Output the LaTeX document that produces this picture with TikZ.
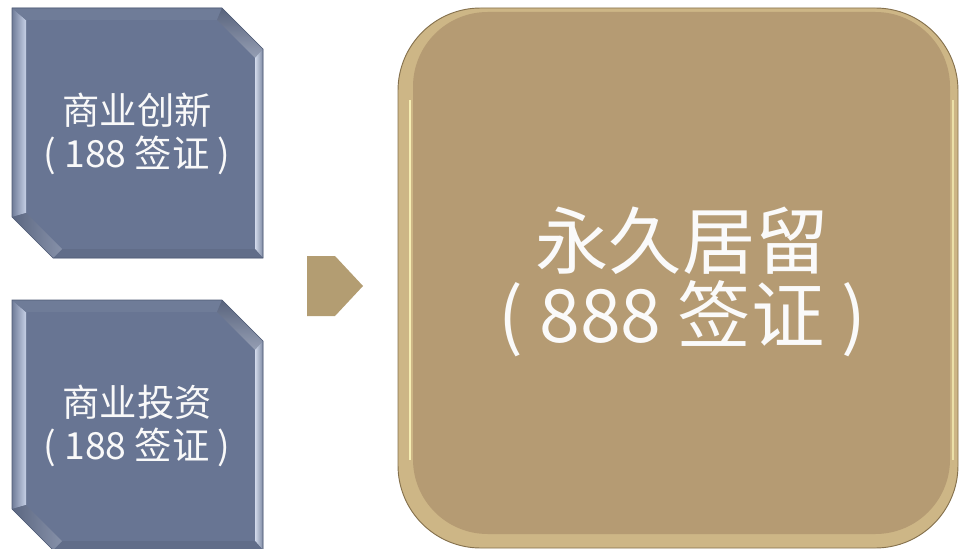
\documentclass[tikz,border=0pt]{standalone}
\usepackage{fontspec}
\usepackage{tikz}
\newfontfamily\cjk{Noto Sans CJK SC}

\definecolor{slate}{HTML}{687593}
\definecolor{slatedark}{HTML}{4F5B75}
\definecolor{slatelight}{HTML}{C6D0E6}
\definecolor{sand}{HTML}{B59B73}
\definecolor{sandrim}{HTML}{CDB686}
\definecolor{sanddark}{HTML}{85714D}
\definecolor{sandarrow}{HTML}{B39D72}

\tikzset{
  boxtext/.style={text=white!95!gray, align=center, font=\cjk\fontsize{28}{32}\selectfont},
  bigtext/.style={text=white!96!gray, align=center, font=\cjk\fontsize{55}{56}\selectfont}
}

\begin{document}
\begin{tikzpicture}[x=0.75pt,y=-0.75pt]

	\useasboundingbox (0,0) rectangle (960,549);

	% the two bevelled boxes on the left
	\foreach \oy in {0,292}{
	\begin{scope}[shift={(0,\oy)}]
		\coordinate (A) at (12,8);
		\coordinate (B) at (222,8);
		\coordinate (C) at (263,49);
		\coordinate (D) at (263,258);
		\coordinate (E) at (53,258);
		\coordinate (F) at (12,217);
		\coordinate (a) at (26,20);
		\coordinate (b) at (217,20);
		\coordinate (c) at (255,58);
		\coordinate (d) at (255,249);
		\coordinate (e) at (62,249);
		\coordinate (f) at (26,213);

		\fill[slate] (A) -- (B) -- (C) -- (D) -- (E) -- (F) -- cycle;
		\shade[left color=slate!95!white, right color=slatelight] (A) -- (a) -- (f) -- (F) -- cycle;
		\fill[slate!95!white] (A) -- (B) -- (b) -- (a) -- cycle;
		\shade[top color=slate!85!black, bottom color=slate!70!white] (B) -- (C) -- (c) -- (b) -- cycle;
		\shade[left color=slatelight!80!white, right color=slate!85!white] (C) -- (D) -- (d) -- (c) -- cycle;
		\fill[slate!93!black] (D) -- (E) -- (e) -- (d) -- cycle;
		\shade[left color=slate!88!black, right color=slate!80!white] (E) -- (F) -- (f) -- (e) -- cycle;
		\draw[slatedark, line width=0.5pt] (A) -- (B) -- (C) -- (D) -- (E) -- (F) -- cycle;
	\end{scope}
	}

	\node[boxtext] (innov) at (137,134) {商业创新\\( 188 签证 )};
	\node[boxtext] (invest) at (137,426) {商业投资\\( 188 签证 )};

	% pointer
	\fill[sandarrow] (307,256) -- (335,256) -- (363,286) -- (335,316) -- (307,316) -- cycle;

	% the large rounded box
	\fill[sandrim, draw=sanddark, line width=0.7pt, rounded corners=62pt]
		(398,8) rectangle (958,548);
	\fill[sand, rounded corners=56pt] (413,12) rectangle (950,534);
	\draw[white!75!yellow, line width=1pt, opacity=0.8] (410,100) -- (410,460);
	\draw[white!75!yellow, line width=1pt, opacity=0.6] (953,100) -- (953,460);

	\node[bigtext] (perm) at (682,282) {永久居留\\( 888 签证 )};

\end{tikzpicture}
\end{document}
